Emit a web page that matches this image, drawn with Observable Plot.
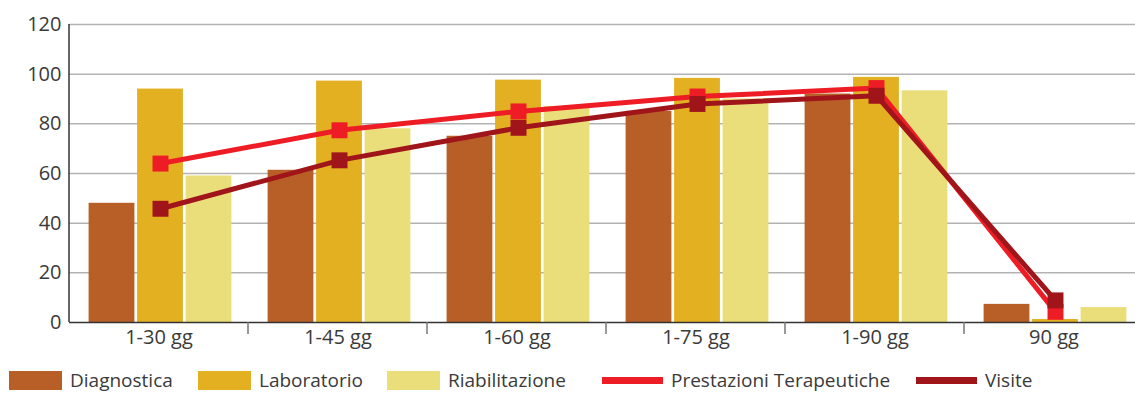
<!DOCTYPE html>
<html>
<head>
<meta charset="utf-8">
<script src="https://cdn.jsdelivr.net/npm/d3@7"></script>
<script src="https://cdn.jsdelivr.net/npm/@observablehq/plot@0.6"></script>
<style>
  body { margin: 0; background: #fff; font-family: "Open Sans", sans-serif; }
  #wrap { width: 1135px; height: 394px; position: relative; }
  #legend { position: relative; height: 36px; width: 1135px; }
  .item { position: absolute; top: 13px; display: flex; align-items: center; font-size: 19px; color: #3a3a3a; line-height: 19px; white-space: nowrap; }
  .sw { width: 53px; height: 19px; margin-right: 8px; }
  .ln { width: 61px; height: 7px; margin-right: 8px; }
</style>
</head>
<body>
<div id="wrap">
  <div id="chart"></div>
  <div id="legend"></div>
</div>
<script>
const categories = ["1-30 gg", "1-45 gg", "1-60 gg", "1-75 gg", "1-90 gg", "90 gg"];
const diagnostica = [48, 61.3, 75, 85, 92, 7.3];
const laboratorio = [94, 97.2, 97.6, 98.3, 98.7, 1.2];
const riabilitazione = [59, 78, 87, 90, 93.3, 6];
const prestazioni = [64, 77.4, 85, 91, 94.4, 4.3];
const visite = [45.8, 65.3, 78.4, 88, 91.3, 8.9];
const yTicks = [0, 20, 40, 60, 80, 100, 120];

const barSeries = [
  {name: "Diagnostica", values: diagnostica, color: "#b85f27"},
  {name: "Laboratorio", values: laboratorio, color: "#e3b022"},
  {name: "Riabilitazione", values: riabilitazione, color: "#eade7a"}
];
const lineSeries = [
  {name: "Prestazioni Terapeutiche", values: prestazioni, color: "#ee1c25"},
  {name: "Visite", values: visite, color: "#a0151a"}
];

const W = 1135, H = 358;
const xRange = [68.1, 1143.3];
const band = (xRange[1] - xRange[0]) / categories.length;
const barW = 46, step = 48.5, shift = 1.5;
const inset = (band - barW) / 2;

const rows = s => categories.map((c, i) => ({cat: c, value: s.values[i]}));

const marks = [
  Plot.ruleY(yTicks.filter(t => t > 0), {stroke: "#b3b3b3", strokeWidth: 1.5})
];
barSeries.forEach((s, i) => {
  marks.push(Plot.barY(rows(s), {
    x: "cat", y: "value", fill: s.color,
    dx: (i - 1) * step + shift, insetLeft: inset, insetRight: inset
  }));
});
marks.push(Plot.ruleY([0], {stroke: "#333", strokeWidth: 1.5}));
lineSeries.forEach(s => {
  marks.push(Plot.line(rows(s), {x: "cat", y: "value", stroke: s.color, strokeWidth: 5, dx: shift}));
  marks.push(Plot.dot(rows(s), {x: "cat", y: "value", symbol: "square", r: 9, fill: s.color, dx: shift}));
});
marks.push(Plot.axisY({ticks: yTicks, tickSize: 0, tickPadding: 8}));
marks.push(Plot.axisX({tickSize: 0, tickPadding: 7}));

const plot = Plot.plot({
  width: W, height: H,
  marginLeft: 69, marginRight: 0, marginTop: 24, marginBottom: 36,
  style: {fontFamily: "'Open Sans', sans-serif", fontSize: "20px", color: "#3a3a3a", background: "#fff", overflow: "visible"},
  x: {domain: categories, range: xRange, padding: 0, label: null},
  y: {domain: [0, 120], label: null},
  marks
});
document.getElementById("chart").appendChild(plot);

// y axis line and category separator ticks, from the plot's own scales
const xs = plot.scale("x"), ys = plot.scale("y");
const svg = d3.select(plot);
const y0 = ys.apply(0), yTop = ys.apply(120);
svg.append("line").attr("x1", 69).attr("x2", 69).attr("y1", yTop).attr("y2", y0)
  .attr("stroke", "#333").attr("stroke-width", 1.5);
categories.slice(1).forEach(c => {
  const x = xs.apply(c);
  svg.append("line").attr("x1", x).attr("x2", x).attr("y1", y0).attr("y2", y0 + 12)
    .attr("stroke", "#777").attr("stroke-width", 1.5);
});

// legend
const legendPos = [9, 198, 387, 602, 916];
const legend = document.getElementById("legend");
[...barSeries.map(s => ({...s, kind: "sw"})), ...lineSeries.map(s => ({...s, kind: "ln"}))].forEach((s, i) => {
  const it = document.createElement("div");
  it.className = "item";
  it.style.left = legendPos[i] + "px";
  const sw = document.createElement("span");
  sw.className = s.kind;
  sw.style.background = s.color;
  const tx = document.createElement("span");
  tx.textContent = s.name;
  it.appendChild(sw); it.appendChild(tx);
  legend.appendChild(it);
});
</script>
</body>
</html>
